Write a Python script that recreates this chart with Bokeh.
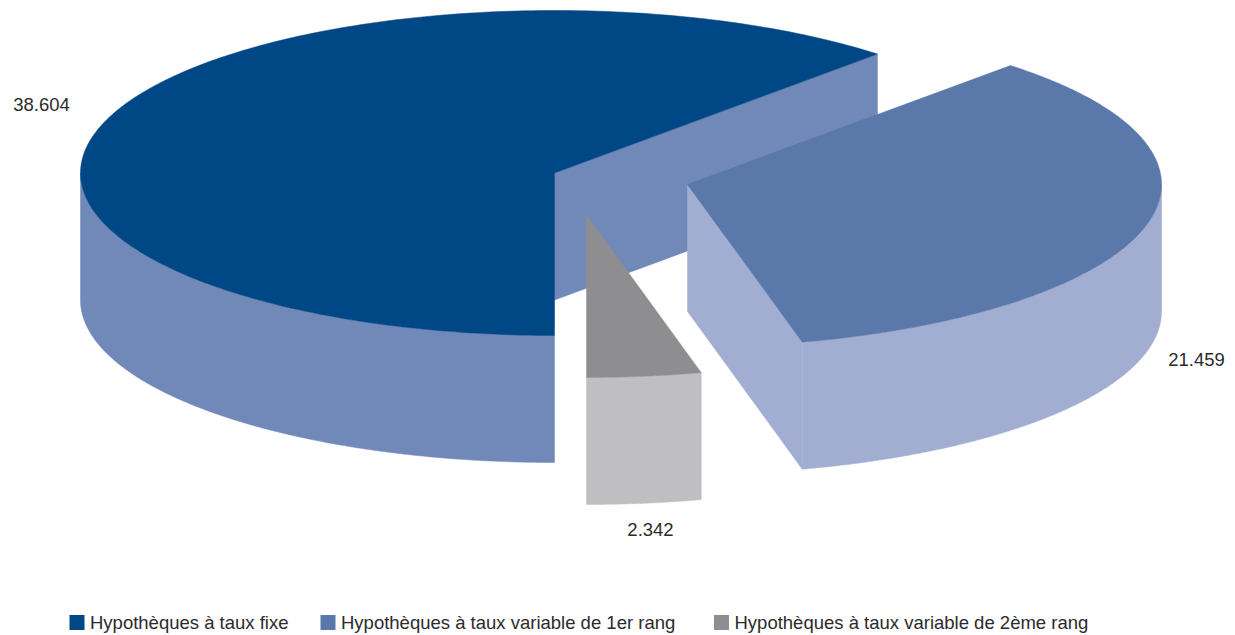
import numpy as np
from bokeh.plotting import figure
from bokeh.models import Range1d
from bokeh.core.properties import value
from bokeh.embed import file_html
from bokeh.resources import INLINE

categories = ["Hypothèques à taux fixe", "Hypothèques à taux variable de 1er rang", "Hypothèques à taux variable de 2ème rang"]
values = [38.604, 21.459, 2.342]
labels = ["38.604", "21.459", "2.342"]
top_colors = ["#004785", "#5b78ab", "#8e8e90"]
side_colors = ["#7189b8", "#a2aed1", "#bfbfc1"]

# pie geometry in page pixels
centers = [(554, 172.5), (687, 184), (586, 214.5)]
RX, RY, DEPTH = 474, 162.5, 127
START = 180.0
# the tilted 3D view shifts the slice edges slightly from their true angles (degrees)
PERSPECTIVE = [0.25, -0.75, 0.5]
label_x = [41, 1196, 650]
label_y = [104, 359, 529]
legend_x = [76.5, 327.5, 721]
legend_y = 622
FONT = "Liberation Sans"
FONT_SIZE = "18.5px"
TEXT = "#2b2b2b"

p = figure(width=1235, height=635, x_range=Range1d(0, 1235), y_range=Range1d(635, 0),
           toolbar_location=None, output_backend="svg", min_border=0)
p.axis.visible = False
p.grid.visible = False
p.outline_line_color = None

total = sum(values)
angles = [START]
for v, d in zip(values, PERSPECTIVE):
    angles.append(angles[-1] + v / total * 360 + d)

def arc(c, a0, a1):
    t = np.radians(np.linspace(a0, a1, 240))
    return c[0] + RX * np.sin(t), c[1] - RY * np.cos(t)

def fill(xs, ys, color):
    p.patch(list(xs), list(ys), fill_color=color, line_color=color, line_width=0.5)

# back to front: dark slice, then the small one, then the right one
for i in [0, 2, 1]:
    c = centers[i]
    a0, a1 = angles[i], angles[i + 1]
    ax, ay = arc(c, a0, a1)
    # cut faces
    if i in (0, 1):
        fill([c[0], ax[-1], ax[-1], c[0]], [c[1], ay[-1], ay[-1] + DEPTH, c[1] + DEPTH], side_colors[i])
    # outer wall: only the part of the rim that faces the viewer
    for shift in (0, 360):
        lo, hi = max(a0, 90 + shift), min(a1, 270 + shift)
        if hi > lo:
            wx, wy = arc(c, lo, hi)
            fill(np.r_[wx, wx[::-1]], np.r_[wy, wy[::-1] + DEPTH], side_colors[i])
    # top
    fill(np.r_[c[0], ax], np.r_[c[1], ay], top_colors[i])

p.text(label_x, label_y, text=labels, text_font=value(FONT), text_font_size=FONT_SIZE,
       text_color=TEXT, text_align="center", text_baseline="middle")
p.rect(legend_x, [legend_y] * 3, width=15, height=15, fill_color=top_colors, line_color=None)
p.text([x + 13 for x in legend_x], [legend_y] * 3, text=categories, text_font=value(FONT),
       text_font_size=FONT_SIZE, text_color=TEXT, text_align="left", text_baseline="middle")

open("out.html", "w").write(file_html(p, INLINE))
